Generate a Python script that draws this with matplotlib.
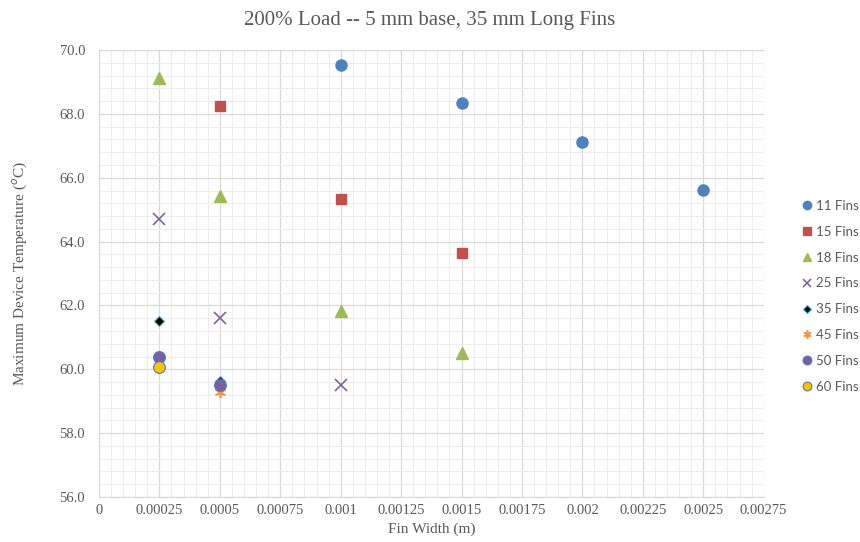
import matplotlib.pyplot as plt
from matplotlib.ticker import MultipleLocator, FixedFormatter, FixedLocator

# Fin width (m) and max device temperature (C) per fin count
x11 = [0.001, 0.0015, 0.002, 0.0025]
y11 = [69.53, 68.33, 67.12, 65.63]
x15 = [0.0005, 0.001, 0.0015]
y15 = [68.25, 65.33, 63.65]
x18 = [0.00025, 0.0005, 0.001, 0.0015]
y18 = [69.12, 65.42, 61.82, 60.5]
x25 = [0.00025, 0.0005, 0.001]
y25 = [64.7, 61.6, 59.5]
x35 = [0.00025, 0.0005]
y35 = [61.52, 59.62]
x45 = [0.0005]
y45 = [59.3]
x50 = [0.00025, 0.0005]
y50 = [60.38, 59.52]
x60 = [0.00025]
y60 = [60.06]

xtick_labels = ["0", "0.00025", "0.0005", "0.00075", "0.001", "0.00125", "0.0015",
                "0.00175", "0.002", "0.00225", "0.0025", "0.00275"]
ytick_labels = ["56.0", "58.0", "60.0", "62.0", "64.0", "66.0", "68.0", "70.0"]

txt = "#595959"
serif = "Liberation Serif"

fig = plt.figure(figsize=(8.6, 5.42), dpi=100)
ax = fig.add_axes([0.1151, 0.083, 0.7729, 0.8247])

ax.plot(x11, y11, "o", color="#4F81BD", ms=8, label="11 Fins")
ax.plot(x15, y15, "s", color="#C0504D", ms=7.5, label="15 Fins")
ax.plot(x18, y18, "^", color="#9BBB59", ms=8.5, label="18 Fins")
ax.plot(x25, y25, "x", color="#8064A2", ms=8, mew=1.2, label="25 Fins")
ax.plot(x35, y35, "D", color="black", mec="#4BACC6", mew=0.8, ms=5.5, label="35 Fins")
ax.plot(x45, y45, marker=(6, 2, 0), ls="none", color="#F79646", ms=8, mew=1.2, label="45 Fins")
ax.plot(x50, y50, "o", color="#7A5FA3", mec="#4A7EBB", mew=0.8, ms=8.5, label="50 Fins")
ax.plot(x60, y60, "o", color="#FFC000", mec="#4A7EBB", mew=0.8, ms=8.5, label="60 Fins")

ax.set_xlim(0, 0.00275)
ax.set_ylim(56, 70)
ax.xaxis.set_major_locator(FixedLocator([i * 0.00025 for i in range(12)]))
ax.xaxis.set_major_formatter(FixedFormatter(xtick_labels))
ax.yaxis.set_major_locator(FixedLocator([56 + 2 * i for i in range(8)]))
ax.yaxis.set_major_formatter(FixedFormatter(ytick_labels))
ax.xaxis.set_minor_locator(MultipleLocator(0.00005))
ax.yaxis.set_minor_locator(MultipleLocator(0.4))

ax.grid(True, which="major", color="#D9D9D9", lw=0.9)
ax.grid(True, which="minor", color="#EDEDED", lw=0.8)
ax.set_axisbelow(True)
ax.tick_params(which="both", length=0, colors=txt, labelsize=10.5)
ax.tick_params(axis="x", pad=5)
ax.tick_params(axis="y", pad=10)
for lbl in ax.get_xticklabels() + ax.get_yticklabels():
    lbl.set_fontfamily(serif)
for side in ["top", "right"]:
    ax.spines[side].set_visible(False)
for side in ["left", "bottom"]:
    ax.spines[side].set_color("#D9D9D9")

ax.set_xlabel("Fin Width (m)", family=serif, fontsize=11, color=txt, labelpad=4)
ax.set_ylabel("Maximum Device Temperature ($^{o}$C)", family=serif, fontsize=11,
              color=txt, labelpad=22)
fig.suptitle("200% Load -- 5 mm base, 35 mm Long Fins", family=serif, fontsize=15,
             color=txt, y=0.98)

leg = ax.legend(loc="center left", bbox_to_anchor=(1.045, 0.449), frameon=False,
                prop={"family": "Lato", "size": 9.5}, labelspacing=1.05,
                handletextpad=0.1, handlelength=1.2, borderaxespad=0,
                markerscale=0.75)
for t in leg.get_texts():
    t.set_color(txt)

fig.savefig("out.png", dpi=100)
